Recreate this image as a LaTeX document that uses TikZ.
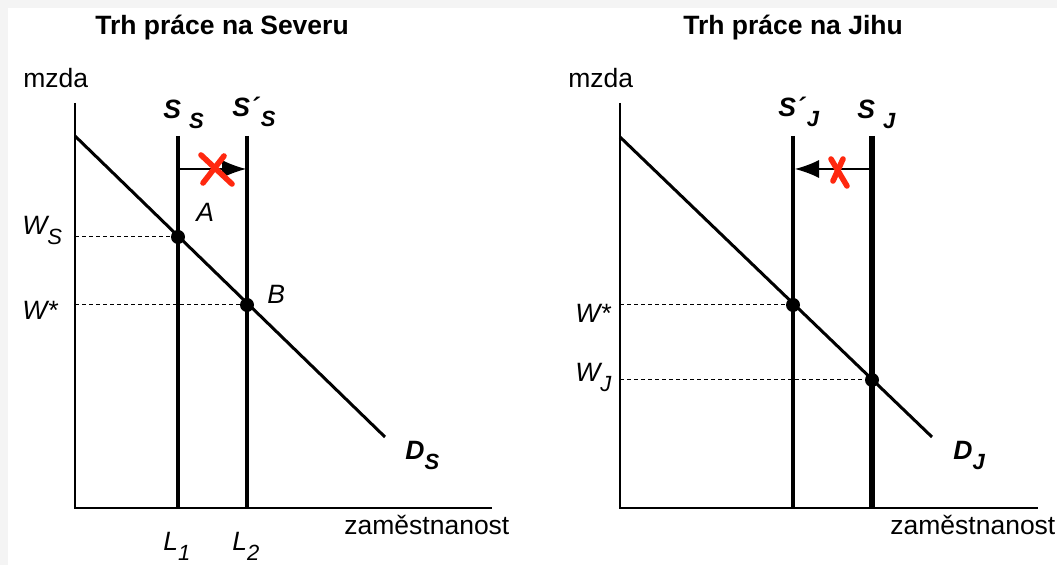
\documentclass[tikz,border=0pt]{standalone}
\usepackage{fontspec}
\setmainfont{Liberation Sans}
\usetikzlibrary{arrows.meta,positioning}
\definecolor{xred}{RGB}{255,40,15}
\definecolor{edgegray}{RGB}{244,244,244}
\newcommand{\lowsub}[1]{\raisebox{-5pt}{\fontsize{11}{12}\selectfont #1}}
\tikzset{
  axis/.style={line width=0.8pt},
  supply/.style={line width=2pt},
  demand/.style={line width=1.5pt},
  guide/.style={dash pattern=on 2pt off 1.5pt, line width=0.5pt},
  dot/.style={circle, fill, inner sep=0pt, minimum size=7pt},
  lab/.style={font=\fontsize{13.25}{15}\selectfont, inner sep=0pt, anchor=base west},
  ttl/.style={lab, font=\fontsize{13.25}{15}\selectfont\bfseries},
  shiftarrow/.style={-{Latex[length=12pt,width=9pt]}, line width=0.6pt},
  cross/.style={draw=xred, line width=2.8pt, line cap=round}
}
\begin{document}
\begin{tikzpicture}[x=0.5pt, y=-0.5pt]
  \useasboundingbox (0,0) rectangle (1057,565);
  \fill[edgegray] (0,0) rectangle (1057,8);
  \fill[edgegray] (0,0) rectangle (8,565);

  % North
  \node[ttl] (tnorth) at (95,35) {Trh práce na Severu};
  \coordinate (o1) at (75,508);
  \coordinate (y1) at (75,103);
  \coordinate (x1) at (492,508);
  \coordinate (d1a) at (75,136);
  \coordinate (d1b) at (385,437);
  \coordinate (s1top) at (178,136);
  \coordinate (s1bot) at (178,508);
  \coordinate (s2top) at (247,136);
  \coordinate (s2bot) at (247,508);
  \coordinate (wsax) at (75,237);
  \coordinate (wnax) at (75,305);
  \coordinate (ar1a) at (178,169);
  \coordinate (ar1b) at (246,169);

  \draw[axis] (y1) -- (o1) -- (x1);
  \draw[guide] (wsax) -- (178,237) node[dot] (ptA) {};
  \draw[guide] (wnax) -- (247,305) node[dot] (ptB) {};
  \draw[supply] (s1top) -- (s1bot);
  \draw[supply] (s2top) -- (s2bot);
  \draw[demand] (d1a) -- (d1b);
  \draw[shiftarrow] (ar1a) -- (ar1b);
  \draw[cross] (201,155) -- (232,184);
  \draw[cross] (224,156) -- (203,183);

  \node[lab] (mz1) at (23,88) {mzda};
  \node[lab] (ssl) at (163,119) {\bfseries\itshape S\hspace{4pt}\lowsub{S}};
  \node[lab] (ss2l) at (232,117) {\bfseries\itshape S´\hspace{1pt}\lowsub{S}};
  \node[lab] (lA) at (196,222) {\itshape A};
  \node[lab] (lB) at (267,304) {\itshape B};
  \node[lab] (ws) at (22,235) {\itshape W\lowsub{S}};
  \node[lab] (wn1) at (22,320) {\itshape W*};
  \node[lab] (l1) at (163,551) {\itshape L\lowsub{1}};
  \node[lab] (l2) at (232,551) {\itshape L\lowsub{2}};
  \node[lab] (ds) at (405,460) {\bfseries\itshape D\lowsub{S}};
  \node[lab] (zam1) at (344,535) {zaměstnanost};

  % South
  \node[ttl] (tsouth) at (683,35) {Trh práce na Jihu};
  \coordinate (o2) at (620,508);
  \coordinate (y2) at (620,103);
  \coordinate (x2) at (1038,508);
  \coordinate (d2a) at (620,137);
  \coordinate (d2b) at (932,437);
  \coordinate (s3top) at (793,136);
  \coordinate (s3bot) at (793,508);
  \coordinate (s4top) at (872,136);
  \coordinate (s4bot) at (872,508);
  \coordinate (wnax2) at (620,305);
  \coordinate (wjax) at (620,380);
  \coordinate (ar2a) at (872,169);
  \coordinate (ar2b) at (795,169);

  \draw[axis] (y2) -- (o2) -- (x2);
  \draw[guide] (wnax2) -- (793,305) node[dot] (ptC) {};
  \draw[guide] (wjax) -- (872,380) node[dot] (ptD) {};
  \draw[supply, line width=2.2pt] (s3top) -- (s3bot);
  \draw[supply, line width=2.7pt] (s4top) -- (s4bot);
  \draw[demand] (d2a) -- (d2b);
  \draw[shiftarrow] (ar2a) -- (ar2b);
  \draw[cross] (831,159) -- (847,186);
  \draw[cross] (843,159) -- (833,181);

  \node[lab] (mz2) at (568,88) {mzda};
  \node[lab] (sj2l) at (778,117) {\bfseries\itshape S´\hspace{1pt}\lowsub{J}};
  \node[lab] (sjl) at (857,119) {\bfseries\itshape S\hspace{4pt}\lowsub{J}};
  \node[lab] (wn2) at (575,323) {\itshape W*};
  \node[lab] (wj) at (575,382) {\itshape W\lowsub{J}};
  \node[lab] (dj) at (953,460) {\bfseries\itshape D\lowsub{J}};
  \node[lab] (zam2) at (890,535) {zaměstnanost};
\end{tikzpicture}
\end{document}
